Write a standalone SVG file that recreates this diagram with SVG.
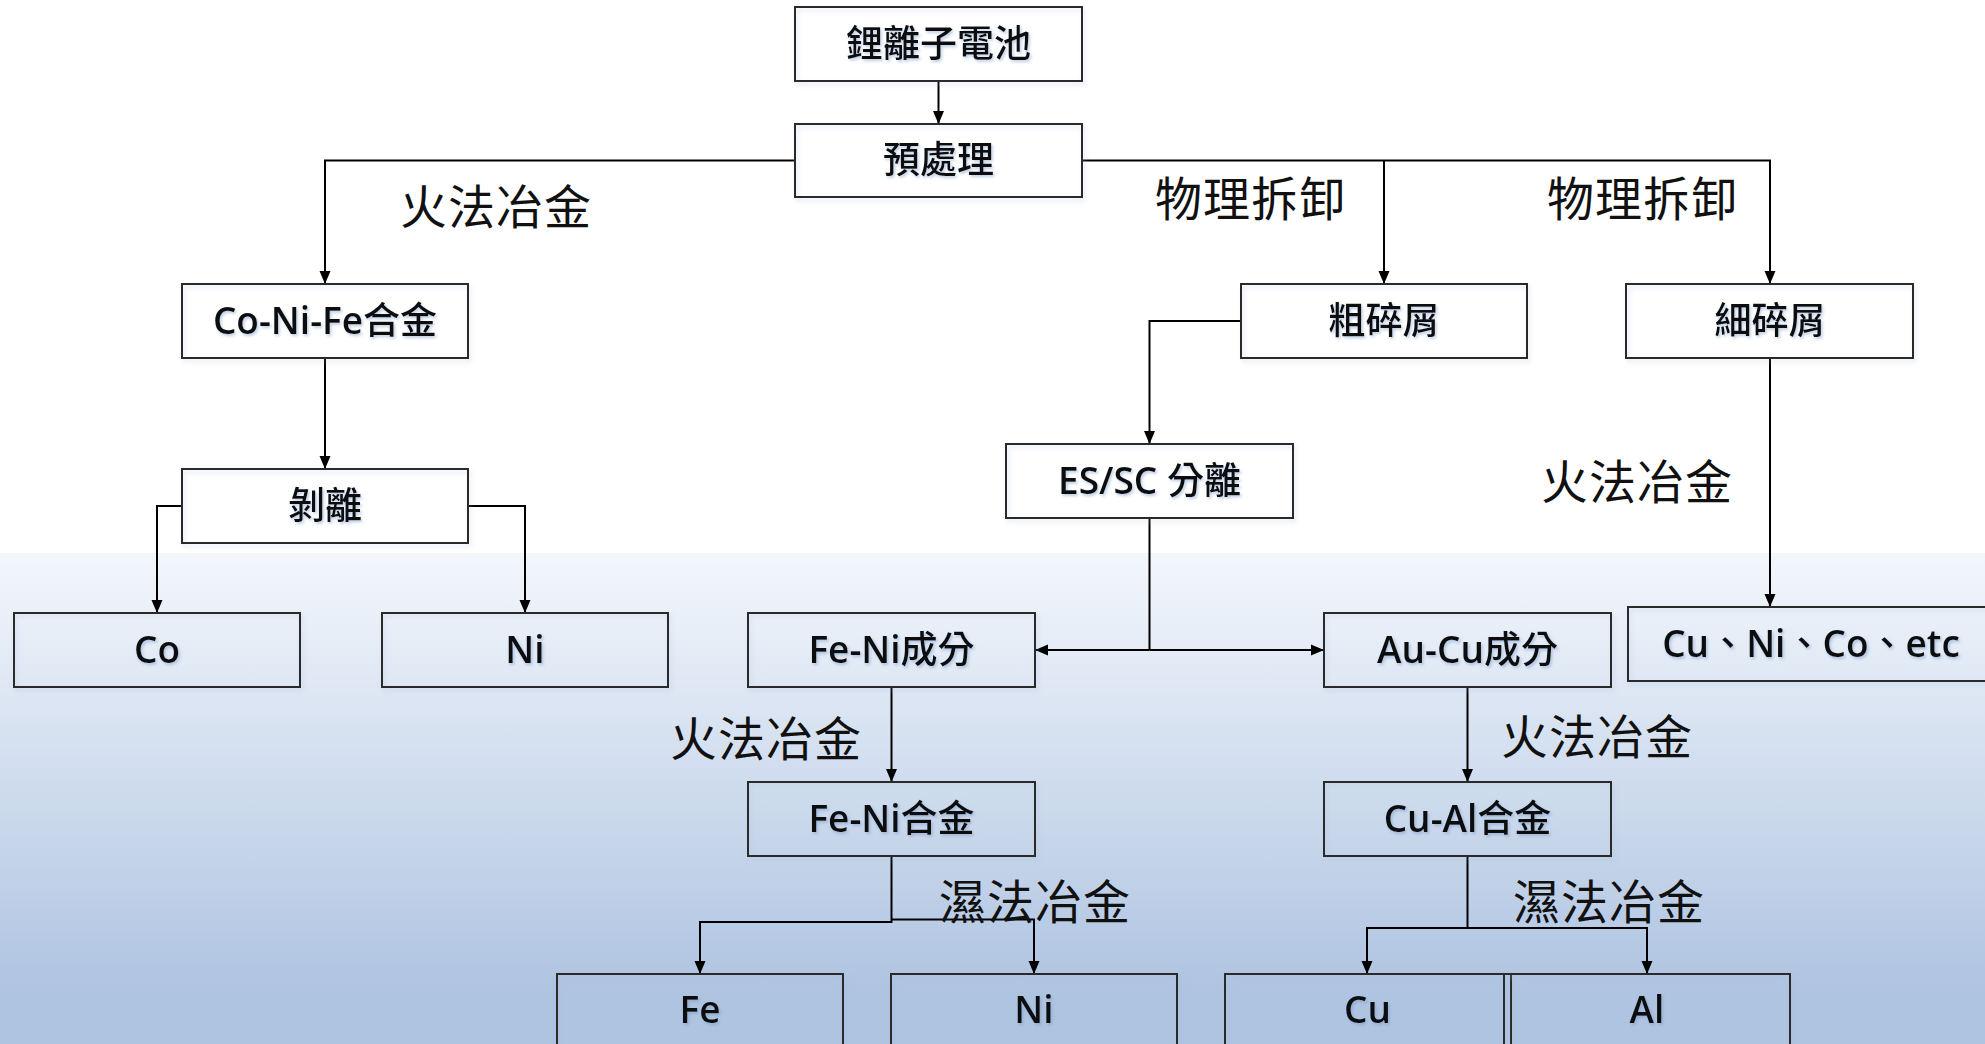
<svg xmlns="http://www.w3.org/2000/svg" width="1985" height="1044" viewBox="0 0 1985 1044">
<defs>
<linearGradient id="bg" x1="0" y1="0" x2="0" y2="1">
<stop offset="0" stop-color="#f3f7fc"/>
<stop offset="0.89" stop-color="#afc4e1"/>
<stop offset="1" stop-color="#afc4e1"/>
</linearGradient>
<marker id="arr" markerUnits="userSpaceOnUse" markerWidth="14" markerHeight="14" viewBox="0 0 14 14" refX="13" refY="7" orient="auto">
<path d="M0,1.5 L13,7 L0,12.5 Z" fill="#000"/>
</marker>
<filter id="ts" x="-10%" y="-30%" width="120%" height="160%">
<feDropShadow dx="1.5" dy="2" stdDeviation="1.5" flood-color="#6f8fc0" flood-opacity="0.45"/>
</filter>
<filter id="bs" x="-5%" y="-10%" width="110%" height="130%">
<feDropShadow dx="2" dy="3" stdDeviation="2" flood-color="#9fb6d8" flood-opacity="0.35"/>
</filter>
</defs>
<style>
.box{fill:none;stroke:#2a2a2a;stroke-width:2;filter:url(#bs)}
.bt{font-family:"Open Sans","Noto Sans CJK TC",sans-serif;font-size:37px;font-weight:600;fill:#111;text-anchor:middle;dominant-baseline:central;filter:url(#ts)}
.c{font-weight:500}
.lb{font-family:"Noto Sans CJK TC",sans-serif;font-size:47px;fill:#111;text-anchor:middle;dominant-baseline:central;letter-spacing:1px}
.cn{fill:none;stroke:#000;stroke-width:2}
.ar{marker-end:url(#arr)}
</style>
<rect x="0" y="0" width="1985" height="1044" fill="#ffffff"/>
<rect x="0" y="553" width="1985" height="491" fill="url(#bg)"/>

<g id="connectors">
<path class="cn ar" d="M938.5,81 V124"/>
<path class="cn ar" d="M795,160.5 H325 V284"/>
<path class="cn ar" d="M1082,160.5 H1770 V284"/>
<path class="cn ar" d="M1384,160.5 V284"/>
<path class="cn ar" d="M325,358 V469"/>
<path class="cn ar" d="M182,506 H157 V613"/>
<path class="cn ar" d="M468,506 H525 V613"/>
<path class="cn ar" d="M1241,321 H1149.5 V444"/>
<path class="cn" d="M1149.5,518 V650"/>
<path class="cn ar" d="M1149.5,650 H1035"/>
<path class="cn ar" d="M1149.5,650 H1324"/>
<path class="cn ar" d="M1770,358 V607"/>
<path class="cn ar" d="M891.5,687 V782"/>
<path class="cn ar" d="M891.5,856 V922 H700 V974"/>
<path class="cn ar" d="M891.5,919.5 H1034 V974"/>
<path class="cn ar" d="M1467.5,687 V782"/>
<path class="cn ar" d="M1467.5,856 V928 H1367 V974"/>
<path class="cn ar" d="M1467.5,928 H1647 V974"/>
</g>

<g id="labels">
<text class="lb" x="496" y="203">火法冶金</text>
<text class="lb" x="1251" y="195">物理拆卸</text>
<text class="lb" x="1643" y="195">物理拆卸</text>
<text class="lb" x="1637" y="478">火法冶金</text>
<text class="lb" x="766" y="735">火法冶金</text>
<text class="lb" x="1597" y="733">火法冶金</text>
<text class="lb" x="1035" y="898">濕法冶金</text>
<text class="lb" x="1609" y="898">濕法冶金</text>
</g>

<g id="n-battery"><rect class="box" x="795" y="7" width="287" height="74"/><text class="bt c" x="938.5" y="42">鋰離子電池</text></g>
<g id="n-pretreat"><rect class="box" x="795" y="124" width="287" height="73"/><text class="bt c" x="938.5" y="158">預處理</text></g>
<g id="n-conife"><rect class="box" x="182" y="284" width="286" height="74"/><text class="bt" x="325" y="319">Co-Ni-Fe<tspan class="c">合金</tspan></text></g>
<g id="n-strip"><rect class="box" x="182" y="469" width="286" height="74"/><text class="bt c" x="325" y="504">剝離</text></g>
<g id="n-co"><rect class="box" x="14" y="613" width="286" height="74"/><text class="bt" x="157" y="648">Co</text></g>
<g id="n-ni1"><rect class="box" x="382" y="613" width="286" height="74"/><text class="bt" x="525" y="648">Ni</text></g>
<g id="n-coarse"><rect class="box" x="1241" y="284" width="286" height="74"/><text class="bt c" x="1384" y="319">粗碎屑</text></g>
<g id="n-fine"><rect class="box" x="1626" y="284" width="287" height="74"/><text class="bt c" x="1770" y="319">細碎屑</text></g>
<g id="n-essc"><rect class="box" x="1006" y="444" width="287" height="74"/><text class="bt" x="1149.5" y="479">ES/SC <tspan class="c">分離</tspan></text></g>
<g id="n-feni-comp"><rect class="box" x="748" y="613" width="287" height="74"/><text class="bt" x="891.5" y="648">Fe-Ni<tspan class="c">成分</tspan></text></g>
<g id="n-aucu-comp"><rect class="box" x="1324" y="613" width="287" height="74"/><text class="bt" x="1467.5" y="648">Au-Cu<tspan class="c">成分</tspan></text></g>
<g id="n-cunico"><rect class="box" x="1628" y="607" width="370" height="74"/><text class="bt" x="1811" y="642">Cu<tspan class="c">、</tspan>Ni<tspan class="c">、</tspan>Co<tspan class="c">、</tspan>etc</text></g>
<g id="n-feni-alloy"><rect class="box" x="748" y="782" width="287" height="74"/><text class="bt" x="891.5" y="817">Fe-Ni<tspan class="c">合金</tspan></text></g>
<g id="n-cual-alloy"><rect class="box" x="1324" y="782" width="287" height="74"/><text class="bt" x="1467.5" y="817">Cu-Al<tspan class="c">合金</tspan></text></g>
<g id="n-fe"><rect class="box" x="557" y="974" width="286" height="80"/><text class="bt" x="700" y="1008">Fe</text></g>
<g id="n-ni2"><rect class="box" x="891" y="974" width="286" height="80"/><text class="bt" x="1034" y="1008">Ni</text></g>
<g id="n-cu"><rect class="box" x="1225" y="974" width="286" height="80"/><text class="bt" x="1367.5" y="1008">Cu</text></g>
<g id="n-al"><rect class="box" x="1504" y="974" width="286" height="80"/><text class="bt" x="1647" y="1008">Al</text></g>
</svg>
